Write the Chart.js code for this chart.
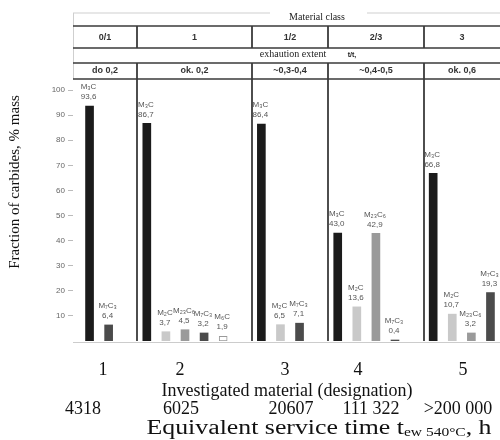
<!DOCTYPE html>
<html><head><meta charset="utf-8">
<script src="https://cdn.jsdelivr.net/npm/chart.js@4"></script>
<style>html,body{margin:0;padding:0;background:#fff}</style>
</head><body>
<canvas id="c" width="500" height="440"></canvas>
<script>
// ---- data ----
const materials = ['1', '2', '3', '4', '5'];
const serviceTimes = ['4318', '6025', '20607', '111 322', '>200 000'];
const materialClasses = ['0/1', '1', '1/2', '2/3', '3'];
const exhaustion = ['do 0,2', 'ok. 0,2', '~0,3-0,4', '~0,4-0,5', 'ok. 0,6'];
const carbides1 = ['M₃C', 'M₇C₃'];
const values1 = [93.6, 6.4];
const carbides2 = ['M₃C', 'M₂C', 'M₂₃C₆', 'M₇C₃', 'M₆C'];
const values2 = [86.7, 3.7, 4.5, 3.2, 1.9];
const carbides3 = ['M₃C', 'M₂C', 'M₇C₃'];
const values3 = [86.4, 6.5, 7.1];
const carbides4 = ['M₃C', 'M₂C', 'M₂₃C₆', 'M₇C₃'];
const values4 = [43.0, 13.6, 42.9, 0.4];
const carbides5 = ['M₃C', 'M₂C', 'M₂₃C₆', 'M₇C₃'];
const values5 = [66.8, 10.7, 3.2, 19.3];
const yTicks = [10, 20, 30, 40, 50, 60, 70, 80, 90, 100];

// ---- styles ----
const fillFor = {'M₃C': '#1b1b1b', 'M₂C': '#c9c9c9', 'M₂₃C₆': '#9a9a9a', 'M₇C₃': '#4b4b4b', 'M₆C': '#ffffff'};
const groups = [
  [carbides1, values1], [carbides2, values2], [carbides3, values3], [carbides4, values4], [carbides5, values5]
];

// build category slots (a spacer slot between groups)
const labels = [], data = [], names = [], colors = [], borders = [], bw = [];
const spacerIdx = [];
groups.forEach(([cs, vs], gi) => {
  if (gi > 0) { spacerIdx.push(labels.length); labels.push('sep' + gi); data.push(null); names.push(null); colors.push('#fff'); borders.push('#fff'); bw.push(0); }
  cs.forEach((c, i) => {
    labels.push(materials[gi] + ' ' + c); data.push(vs[i]); names.push(c);
    colors.push(fillFor[c]); borders.push(c === 'M₆C' ? '#9a9a9a' : fillFor[c]); bw.push(c === 'M₆C' ? 1 : 0);
  });
});

const SANS = '"Liberation Sans", Arial, sans-serif';
const SERIF = '"Liberation Serif", "Times New Roman", serif';

// draw text stretched horizontally to a target width, centred at cx
function fitText(ctx, parts, cx, y, targetW) {
  let total = 0;
  parts.forEach(p => { ctx.font = p.font; p.w = ctx.measureText(p.t).width; total += p.w; });
  const k = targetW / total;
  ctx.save();
  ctx.translate(cx - targetW / 2, y);
  ctx.scale(k, 1);
  ctx.textAlign = 'left';
  let x = 0;
  parts.forEach(p => { ctx.font = p.font; ctx.fillText(p.t, x, p.dy || 0); x += p.w; });
  ctx.restore();
}

const overlay = {
  id: 'overlay',
  afterDraw(chart) {
    const ctx = chart.ctx, area = chart.chartArea, xs = chart.scales.x;
    const w = xs.getPixelForValue(1) - xs.getPixelForValue(0);
    const L = 73, R = 500;
    const seps = spacerIdx.map(i => Math.round(xs.getPixelForValue(i) + w / 2));
    const edges = [L, ...seps, R];
    const centers = materials.map((m, i) => (edges[i] + edges[i + 1]) / 2);
    ctx.save();
    // table lines
    const hline = (y, col, lw) => { ctx.strokeStyle = col; ctx.lineWidth = lw; ctx.beginPath(); ctx.moveTo(L, y); ctx.lineTo(R, y); ctx.stroke(); };
    hline(13, '#cfcfcf', 1);
    ctx.beginPath(); ctx.strokeStyle = '#cfcfcf'; ctx.lineWidth = 1; ctx.moveTo(L + 0.5, 13); ctx.lineTo(L + 0.5, 79); ctx.stroke();
    [26, 48, 63, 79].forEach(y => hline(y, '#3a3a3a', 1.6));
    // vertical separators
    ctx.strokeStyle = '#3a3a3a'; ctx.lineWidth = 1.8;
    seps.forEach(x => {
      ctx.beginPath(); ctx.moveTo(x, 26); ctx.lineTo(x, 48); ctx.stroke();
      ctx.beginPath(); ctx.moveTo(x, 63); ctx.lineTo(x, area.bottom); ctx.stroke();
    });
    // x axis line
    ctx.strokeStyle = '#cccccc'; ctx.lineWidth = 1;
    ctx.beginPath(); ctx.moveTo(L, area.bottom + 1.5); ctx.lineTo(R, area.bottom + 1.5); ctx.stroke();

    // header texts
    ctx.textAlign = 'center'; ctx.textBaseline = 'middle';
    ctx.fillStyle = '#fff'; ctx.fillRect(270, 8, 97, 12);
    ctx.fillStyle = '#222'; ctx.font = '10px ' + SERIF;
    ctx.fillText('Material class', 317, 17);
    ctx.font = 'bold 9px ' + SANS; ctx.fillStyle = '#333';
    materialClasses.forEach((t, i) => ctx.fillText(t, centers[i], 37.5));
    exhaustion.forEach((t, i) => ctx.fillText(t, centers[i], 71));
    ctx.fillStyle = '#222'; ctx.font = '10px ' + SERIF;
    ctx.fillText('exhaution extent', 293, 54);
    ctx.font = 'bold 7px ' + SANS; ctx.fillText('t/t,', 352, 55);

    // bar labels
    const meta = chart.getDatasetMeta(0);
    ctx.fillStyle = '#555'; ctx.font = '8px ' + SANS;
    meta.data.forEach((bar, i) => {
      if (data[i] === null) return;
      const x = bar.x - 1, y = bar.y;
      ctx.fillText(names[i], x, y - 19);
      ctx.fillText(data[i].toFixed(1).replace('.', ','), x, y - 9);
    });

    // bottom texts
    ctx.fillStyle = '#111';
    ctx.font = '18px ' + SERIF;
    const matX = [103, 180, 285, 358, 463];
    materials.forEach((t, i) => ctx.fillText(t, matX[i], 370));
    ctx.fillText('Investigated material (designation)', 287, 391);
    const timeX = [83, 181, 291, 371, 458];
    serviceTimes.forEach((t, i) => ctx.fillText(t, timeX[i], 409));
    // equivalent service time with subscript
    fitText(ctx, [
      { t: 'Equivalent service time t', font: '20px ' + SERIF },
      { t: 'ew 540°C', font: '12px ' + SERIF, dy: 4 },
      { t: ', h', font: '20px ' + SERIF }
    ], 319, 429, 345);

    // y title
    ctx.translate(15, 182); ctx.rotate(-Math.PI / 2);
    ctx.textAlign = 'center'; ctx.font = '15px ' + SERIF; ctx.fillStyle = '#111';
    ctx.fillText('Fraction of carbides, % mass', 0, 0);
    ctx.restore();
  }
};

new Chart(document.getElementById('c'), {
  type: 'bar',
  data: { labels, datasets: [{ data, backgroundColor: colors, borderColor: borders, borderWidth: bw, barThickness: 8, borderSkipped: false }] },
  options: {
    responsive: false, animation: false,
    layout: { padding: { top: 90, bottom: 99, left: 0, right: 0 } },
    plugins: { legend: { display: false }, tooltip: { enabled: false } },
    scales: {
      x: { display: false },
      y: {
        min: 0, max: 100,
        afterBuildTicks: s => { s.ticks = yTicks.map(v => ({ value: v })); },
        afterFit: s => { s.width = 80; },
        ticks: { color: '#666', font: { family: SANS, size: 8 }, padding: 3 },
        grid: { drawOnChartArea: false, tickLength: 12, tickBorderDash: [5, 50], tickColor: '#bbbbbb' },
        border: { display: false }
      }
    }
  },
  plugins: [overlay]
});
</script>
</body></html>
